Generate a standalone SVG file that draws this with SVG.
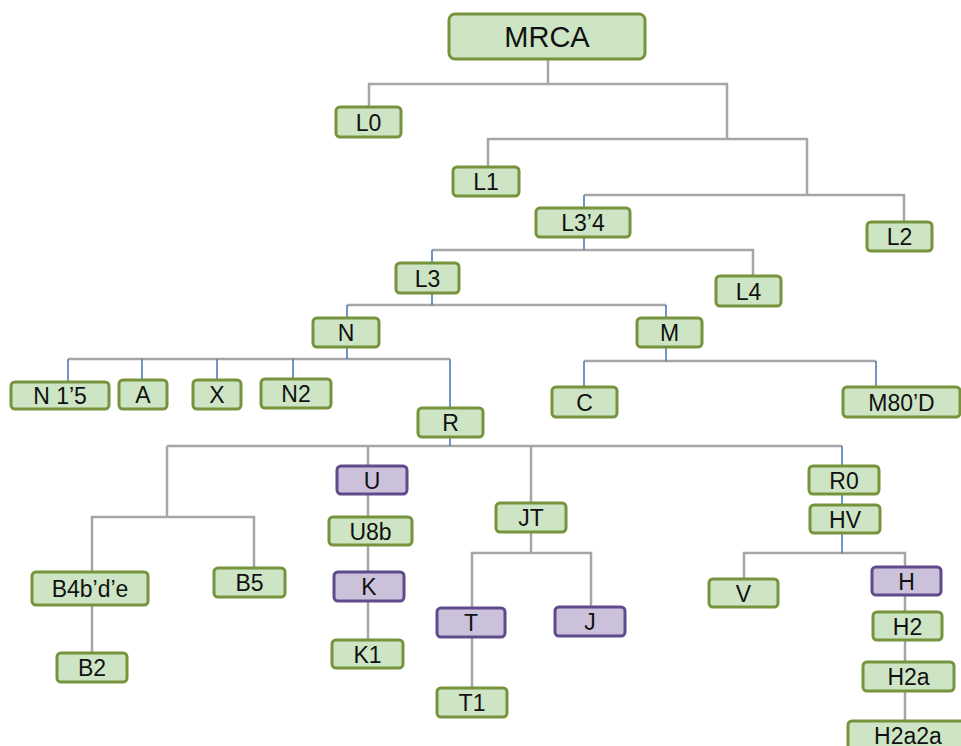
<svg xmlns="http://www.w3.org/2000/svg" width="961" height="746" viewBox="0 0 961 746">
<style>
.g rect{fill:#CDE5C4;stroke:#77933C;stroke-width:3}
.p rect{fill:#CCC1DA;stroke:#5F4B8B;stroke-width:3}
text{font-family:"Liberation Sans",Arial,sans-serif;font-size:23px;fill:#111;text-anchor:middle}
.gr{fill:none;stroke:#A6A6A6;stroke-width:2.5}
.bl{fill:none;stroke:#4A7EBB;stroke-width:1.6}
</style>
<rect width="961" height="746" fill="#fff"/>
<g id="connectors">
<path class="gr" d="M548 59V84M369 107V84H727V139M488 167V139H807V195M584 195H904V222M432 250H753V276M347 305H666M68 359H450M584 361H876M167 446H842M167 446V517M92 572V517H254V568M92 605V653M368 446V466M368 494V517M368 545V572M368 601V640M531 446V503M531 532V553M472 608V553H591V607M472 637V688M744 579V553H905V567M905 595V612M905 640V662M905 691V721"/>
<path class="bl" d="M584 195V208M584 237V250M432 250V263M432 293V305M347 305V318M666 305V318M347 347V359M68 359V382M142 359V380M217 359V380M293 359V379M450 359V408M666 347V361M584 361V387M876 361V387M450 437V446M842 446V466M842 494V505M842 533V553"/>
</g>
<g id="MRCA" class="g"><rect x="449" y="14" width="196" height="45" rx="6"/><text x="547" y="47" style="font-size:29px">MRCA</text></g>
<g id="L0" class="g"><rect x="336" y="107" width="65" height="30" rx="4"/><text x="368.5" y="130.5">L0</text></g>
<g id="L1" class="g"><rect x="453" y="167" width="66" height="29" rx="4"/><text x="486" y="190">L1</text></g>
<g id="L3_4" class="g"><rect x="536" y="208" width="94" height="29" rx="4"/><text x="583" y="231">L3’4</text></g>
<g id="L2" class="g"><rect x="867" y="222" width="65" height="29" rx="4"/><text x="899.5" y="245">L2</text></g>
<g id="L3" class="g"><rect x="396" y="263" width="63" height="30" rx="4"/><text x="427.5" y="286.5">L3</text></g>
<g id="L4" class="g"><rect x="716" y="276" width="65" height="30" rx="4"/><text x="748.5" y="299.5">L4</text></g>
<g id="N" class="g"><rect x="313" y="318" width="66" height="29" rx="4"/><text x="346" y="341">N</text></g>
<g id="M" class="g"><rect x="637" y="318" width="65" height="29" rx="4"/><text x="669.5" y="341">M</text></g>
<g id="N1_5" class="g"><rect x="11" y="382" width="98" height="27" rx="4"/><text x="60" y="404">N 1’5</text></g>
<g id="A" class="g"><rect x="119" y="380" width="48" height="29" rx="4"/><text x="143" y="403">A</text></g>
<g id="X" class="g"><rect x="193" y="380" width="48" height="29" rx="4"/><text x="217" y="403">X</text></g>
<g id="N2" class="g"><rect x="261" y="379" width="70" height="29" rx="4"/><text x="296" y="402">N2</text></g>
<g id="C" class="g"><rect x="552" y="387" width="65" height="30" rx="4"/><text x="584.5" y="410.5">C</text></g>
<g id="M80_D" class="g"><rect x="843" y="387" width="117" height="30" rx="4"/><text x="901.5" y="410.5">M80’D</text></g>
<g id="R" class="g"><rect x="418" y="408" width="65" height="29" rx="4"/><text x="450.5" y="431">R</text></g>
<g id="B4b_d_e" class="g"><rect x="32" y="572" width="116" height="33" rx="4"/><text x="90" y="597">B4b’d’e</text></g>
<g id="B5" class="g"><rect x="214" y="568" width="71" height="29" rx="4"/><text x="249.5" y="591">B5</text></g>
<g id="B2" class="g"><rect x="57" y="653" width="70" height="29" rx="4"/><text x="92" y="676">B2</text></g>
<g id="U" class="p"><rect x="337" y="466" width="70" height="28" rx="4"/><text x="372" y="488.5">U</text></g>
<g id="U8b" class="g"><rect x="329" y="517" width="83" height="28" rx="4"/><text x="370.5" y="539.5">U8b</text></g>
<g id="K" class="p"><rect x="334" y="572" width="70" height="29" rx="4"/><text x="369" y="595">K</text></g>
<g id="K1" class="g"><rect x="332" y="640" width="71" height="28" rx="4"/><text x="367.5" y="662.5">K1</text></g>
<g id="JT" class="g"><rect x="496" y="503" width="70" height="29" rx="4"/><text x="531" y="526">JT</text></g>
<g id="T" class="p"><rect x="437" y="608" width="68" height="29" rx="4"/><text x="471" y="631">T</text></g>
<g id="J" class="p"><rect x="555" y="607" width="70" height="29" rx="4"/><text x="590" y="630">J</text></g>
<g id="T1" class="g"><rect x="437" y="688" width="70" height="29" rx="4"/><text x="472" y="711">T1</text></g>
<g id="R0" class="g"><rect x="809" y="466" width="70" height="28" rx="4"/><text x="844" y="488.5">R0</text></g>
<g id="HV" class="g"><rect x="810" y="505" width="70" height="28" rx="4"/><text x="845" y="527.5">HV</text></g>
<g id="V" class="g"><rect x="709" y="579" width="69" height="28" rx="4"/><text x="743.5" y="601.5">V</text></g>
<g id="H" class="p"><rect x="872" y="567" width="69" height="28" rx="4"/><text x="906.5" y="589.5">H</text></g>
<g id="H2" class="g"><rect x="873" y="612" width="69" height="28" rx="4"/><text x="907.5" y="634.5">H2</text></g>
<g id="H2a" class="g"><rect x="863" y="662" width="91" height="29" rx="4"/><text x="908.5" y="685">H2a</text></g>
<g id="H2a2a" class="g"><rect x="848" y="721" width="120" height="32" rx="4"/><text x="908" y="744">H2a2a</text></g>
</svg>
